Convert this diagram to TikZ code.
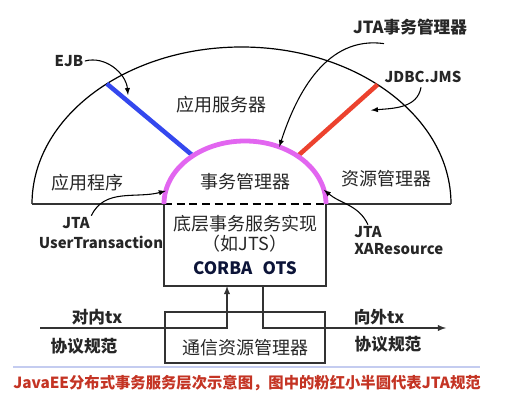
\documentclass[tikz,border=0pt]{standalone}
\usepackage{fontspec}
\setmainfont{Noto Sans CJK SC}
\usetikzlibrary{arrows,calc,positioning}
\definecolor{jtapink}{RGB}{226,102,240}
\definecolor{ejbblue}{RGB}{52,72,238}
\definecolor{resred}{RGB}{236,66,46}
\definecolor{captred}{RGB}{196,52,36}
\definecolor{ruleblue}{RGB}{196,204,240}
\definecolor{otsblue}{RGB}{12,20,56}
\tikzset{
  lbl/.style={font=\fontsize{13.5}{15}\selectfont, text=black!85, inner sep=1pt},
  tag/.style={font=\fontsize{11.2}{13}\selectfont\bfseries, text=black!85, inner sep=1pt},
  tagcn/.style={font=\fontsize{12.5}{14}\selectfont\bfseries, text=black!85, inner sep=1pt},
  pointer/.style={-latex, line width=0.8pt},
  wire/.style={line width=1.1pt, draw=black!80},
}

\begin{document}
\begin{tikzpicture}[x=0.75pt,y=0.75pt]
  \useasboundingbox (0,0) rectangle (516,414);
  \begin{scope}
    \coordinate (big) at (241.5,210);
    \coordinate (small) at (245,210);
    % outer half ellipse and its base line
    \draw[line width=0.9pt] (32,210) arc[start angle=180,end angle=0,x radius=209.5,y radius=157];
    \draw[wire] (32,210) -- (164,210);
    \draw[wire] (326,210) -- (451,210);
    \draw[line width=1pt, dash pattern=on 6pt off 3.5pt] (164,210) -- (326,210);
    \foreach \ang/\col/\nm in {130/ejbblue/ejb, 49.5/resred/res} {
      \path (big) ++(\ang:209.5 and 157) coordinate (\nm-out);
      \path (small) ++(\ang:81 and 63) coordinate (\nm-in);
      \draw[\col, line width=3.4pt] (\nm-in) -- (\nm-out);
    }
    \draw[jtapink, line width=3.6pt] (164,210) arc[start angle=180,end angle=0,x radius=81,y radius=63];
    \path (small) ++(168:81 and 63) coordinate (ut-tip);
    \path (small) ++(13:81 and 63) coordinate (xa-tip);
    \path (small) ++(65:81 and 63) coordinate (tm-tip);
    \path (big) ++(44:180 and 135) coordinate (res-tip);
    \coordinate (ejb-tip) at (128,319);
  \end{scope}

  % JTS box and communication box
  \coordinate (jts-in) at (227,128);
  \coordinate (jts-out) at (263,128);
  \coordinate (tx-in) at (40,86);
  \coordinate (tx-out) at (446,86);
  \draw[wire] (164,210) -- (164,128) -- (326,128) -- (326,210);
  \draw[wire] (165,51) rectangle (325,102);
  \draw[wire, -latex] (tx-in) -| (jts-in);
  \draw[wire, -latex] (jts-out) |- (tx-out);

  \node[lbl] (appsrv) at (221.5,309) {应用服务器};
  \node[lbl] (app) at (87.5,231) {应用程序};
  \node[lbl] (res) at (386,235) {资源管理器};
  \node[lbl] (tm) at (245,232) {事务管理器};
  \node[lbl] (jts) at (245,190) {底层事务服务实现};
  \node[lbl] (jtsno) at (245,170) {（如JTS）};
  \node[tag, font=\fontsize{12.8}{14}\selectfont\bfseries, text=otsblue] (ots) at (245,146) {CORBA\hspace{0.6em}OTS};
  \node[lbl] (comm) at (245,66) {通信资源管理器};
  \node[tagcn] (intx) at (97,97) {对内tx};
  \node[tagcn] (inspec) at (84,68) {协议规范};
  \node[tagcn] (outtx) at (379,97) {向外tx};
  \node[tagcn] (outspec) at (388,70) {协议规范};

  \node[tag] (ejb) at (69,353) {EJB};
  \node[tagcn] (jtatm) at (410,387) {JTA事务管理器};
  \node[tag] (jdbc) at (423,337) {JDBC.JMS};
  \node[tag] (utjta) at (76,191) {JTA};
  \node[tag] (ut) at (101,172) {UserTransaction};
  \node[tag] (xajta) at (368,182) {JTA};
  \node[tag, below=2pt of xajta.south west, anchor=north west] (xa) {XAResource};

  \draw[pointer] (ejb.east) to[out=15,in=95] (ejb-tip);
  \draw[pointer] (jtatm.south) ++(-26,-7) to[out=172,in=72] (tm-tip);
  \draw[pointer] (jdbc.south) ++(-2,-3) to[out=-100,in=5] (res-tip);
  \draw[pointer] (utjta.north east) to[out=65,in=195] (ut-tip);
  \draw[pointer] (xajta.north) to[out=115,in=-40] (xa-tip);

  % caption
  \draw[ruleblue, line width=0.8pt] (13,47) -- (480,47);
  \node[font=\fontsize{11.5}{13}\selectfont\bfseries, text=captred, anchor=west, inner sep=0pt] (caption) at (13,31)
    {JavaEE分布式事务服务层次示意图，图中的粉红小半圆代表JTA规范};
\end{tikzpicture}
\end{document}
